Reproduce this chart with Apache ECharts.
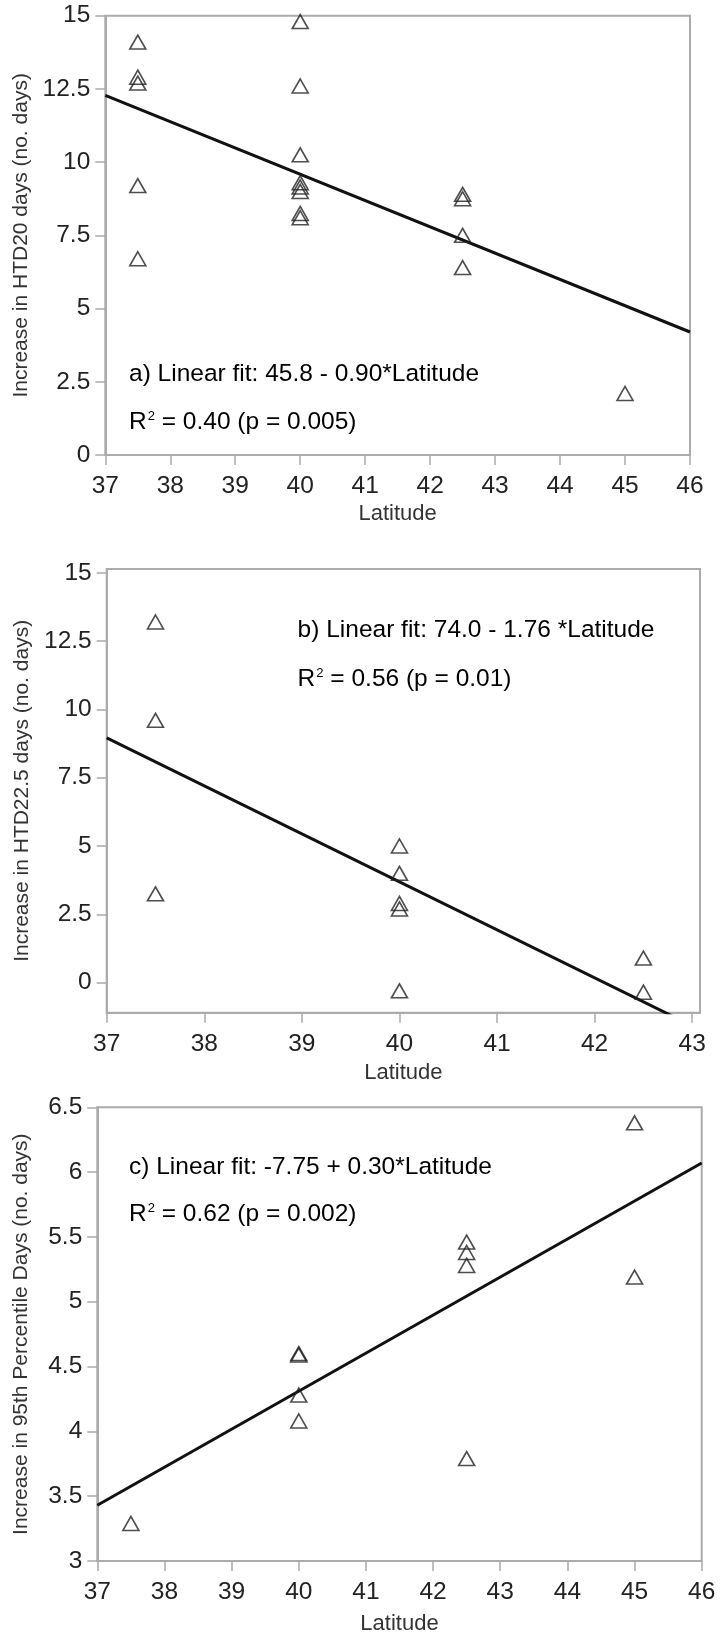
<!DOCTYPE html>
<html>
<head>
<meta charset="utf-8">
<script src="https://cdn.jsdelivr.net/npm/echarts@6/dist/echarts.min.js"></script>
<style>
html,body{margin:0;padding:0;background:#fff;}
#chart{width:720px;height:1636px;}
</style>
</head>
<body>
<div id="chart"></div>
<script>
// a) HTD20
var latA = [37.5,37.5,37.5,37.5,37.5, 40,40,40,40,40,40,40,40, 42.5,42.5,42.5,42.5, 45];
var htd20 = [14.1,12.9,12.7,9.2,6.7, 14.8,12.6,10.25,9.3,9.15,9.0,8.25,8.1, 8.9,8.75,7.5,6.4, 2.1];
var fitLatA = [37,46];
var fitA = [12.28,4.2];

// b) HTD22.5
var latB = [37.5,37.5,37.5, 40,40,40,40,40, 42.5,42.5];
var htd225 = [13.2,9.6,3.25, 5.0,4.0,2.9,2.7,-0.3, 0.9,-0.35];
var fitLatB = [37,43];
var fitB = [8.96,-1.58];

// c) 95th percentile days
var latC = [37.5, 40,40,40,40, 42.5,42.5,42.5,42.5, 45,45];
var p95 = [3.29, 4.6,4.59,4.28,4.08, 5.46,5.38,5.28,3.79, 6.38,5.19];
var fitLatC = [37,46];
var fitC = [3.43,6.07];

var latTicksLong = [37,38,39,40,41,42,43,44,45,46];
var latTicksShort = [37,38,39,40,41,42,43];
var htdTicks = [0,2.5,5,7.5,10,12.5,15];
var p95Ticks = [3,3.5,4,4.5,5,5.5,6,6.5];

var yNames = ['Increase in HTD20 days (no. days)','Increase in HTD22.5 days (no. days)','Increase in 95th Percentile Days (no. days)'];
var fitTexts = ['a) Linear fit: 45.8 - 0.90*Latitude','b) Linear fit: 74.0 - 1.76 *Latitude','c) Linear fit: -7.75 + 0.30*Latitude'];
var r2Texts = [' = 0.40 (p = 0.005)',' = 0.56 (p = 0.01)',' = 0.62 (p = 0.002)'];

var tickFont = "'Liberation Sans Narrow','Liberation Sans',sans-serif";
var nameFont = "'Liberation Sans',sans-serif";
var axisGray = '#ababab';

function pairs(xs,ys){
    var out = [];
    for (var i=0;i<xs.length;i++){ out.push([xs[i],ys[i]]); }
    return out;
}

function makeX(gi,min,max,ticks,gap){
    return {
        type:'value', gridIndex:gi, min:min, max:max,
        name:'Latitude', nameLocation:'middle', nameGap:gap,
        nameTextStyle:{fontSize:22, color:'#333', fontFamily:nameFont},
        axisLine:{show:true, onZero:false, lineStyle:{color:axisGray, width:2}},
        axisTick:{show:true, length:10, customValues:ticks, lineStyle:{color:axisGray, width:1.5}},
        axisLabel:{customValues:ticks, margin:19, fontSize:24.5, color:'#222', fontFamily:tickFont},
        splitLine:{show:false}
    };
}

function makeY(gi,min,max,ticks,name,gap){
    return {
        type:'value', gridIndex:gi, min:min, max:max,
        name:name, nameLocation:'middle', nameGap:gap,
        nameTextStyle:{fontSize:21, color:'#333', fontFamily:nameFont},
        axisLine:{show:true, onZero:false, lineStyle:{color:axisGray, width:2}},
        axisTick:{show:true, length:10, customValues:ticks, lineStyle:{color:axisGray, width:1.5}},
        axisLabel:{customValues:ticks, margin:15, fontSize:24.5, color:'#222', fontFamily:tickFont},
        splitLine:{show:false}
    };
}

function points(gi,xs,ys){
    return {
        type:'scatter', xAxisIndex:gi, yAxisIndex:gi,
        data:pairs(xs,ys), symbol:'triangle', symbolSize:[16,14], z:3,
        itemStyle:{color:'rgba(255,255,255,0)', borderColor:'#222', borderWidth:1.6}
    };
}

function fitLine(gi,xs,ys){
    return {
        type:'line', xAxisIndex:gi, yAxisIndex:gi, clip:true,
        data:pairs(xs,ys), showSymbol:false, symbol:'none', z:2,
        lineStyle:{color:'#111', width:3}
    };
}

function fitLabel(x,y,txt){
    return {
        type:'text', x:x, y:y,
        style:{text:txt, fill:'#000', fontSize:24.5, fontFamily:nameFont, verticalAlign:'middle'}
    };
}

function r2Label(x,y,txt){
    return {
        type:'text', x:x, y:y,
        style:{
            text:'{t|R}{s|2}{t|'+txt+'}', verticalAlign:'middle',
            rich:{
                t:{fill:'#000', fontSize:24.5, fontFamily:nameFont},
                s:{fill:'#000', fontSize:13, fontFamily:nameFont, verticalAlign:'top', padding:[0,0,0,1]}
            }
        }
    };
}

var gridStyle = {show:true, borderColor:axisGray, borderWidth:2, backgroundColor:'#fff'};

var option = {
    animation:false,
    backgroundColor:'#fff',
    grid:[
        Object.assign({left:105.3, top:15.7, width:584.7, height:439.3}, gridStyle),
        Object.assign({left:106.7, top:569, width:593.3, height:443.7}, gridStyle),
        Object.assign({left:97.3, top:1107.3, width:604.4, height:455}, gridStyle)
    ],
    xAxis:[
        makeX(0,37,46,latTicksLong,48),
        makeX(1,37,43.08,latTicksShort,49),
        makeX(2,37,46,latTicksLong,52)
    ],
    yAxis:[
        makeY(0,0,15,htdTicks,yNames[0],73),
        makeY(1,-1.1,15.14,htdTicks,yNames[1],74),
        makeY(2,3,6.5,p95Ticks,yNames[2],66)
    ],
    series:[
        fitLine(0,fitLatA,fitA), points(0,latA,htd20),
        fitLine(1,fitLatB,fitB), points(1,latB,htd225),
        fitLine(2,fitLatC,fitC), points(2,latC,p95)
    ],
    graphic:[
        fitLabel(129,374,fitTexts[0]), r2Label(129,422,r2Texts[0]),
        fitLabel(297.6,630,fitTexts[1]), r2Label(297.6,679,r2Texts[1]),
        fitLabel(129,1167,fitTexts[2]), r2Label(129,1214.5,r2Texts[2])
    ]
};

var myChart = echarts.init(document.getElementById('chart'));
myChart.setOption(option);
</script>
</body>
</html>
